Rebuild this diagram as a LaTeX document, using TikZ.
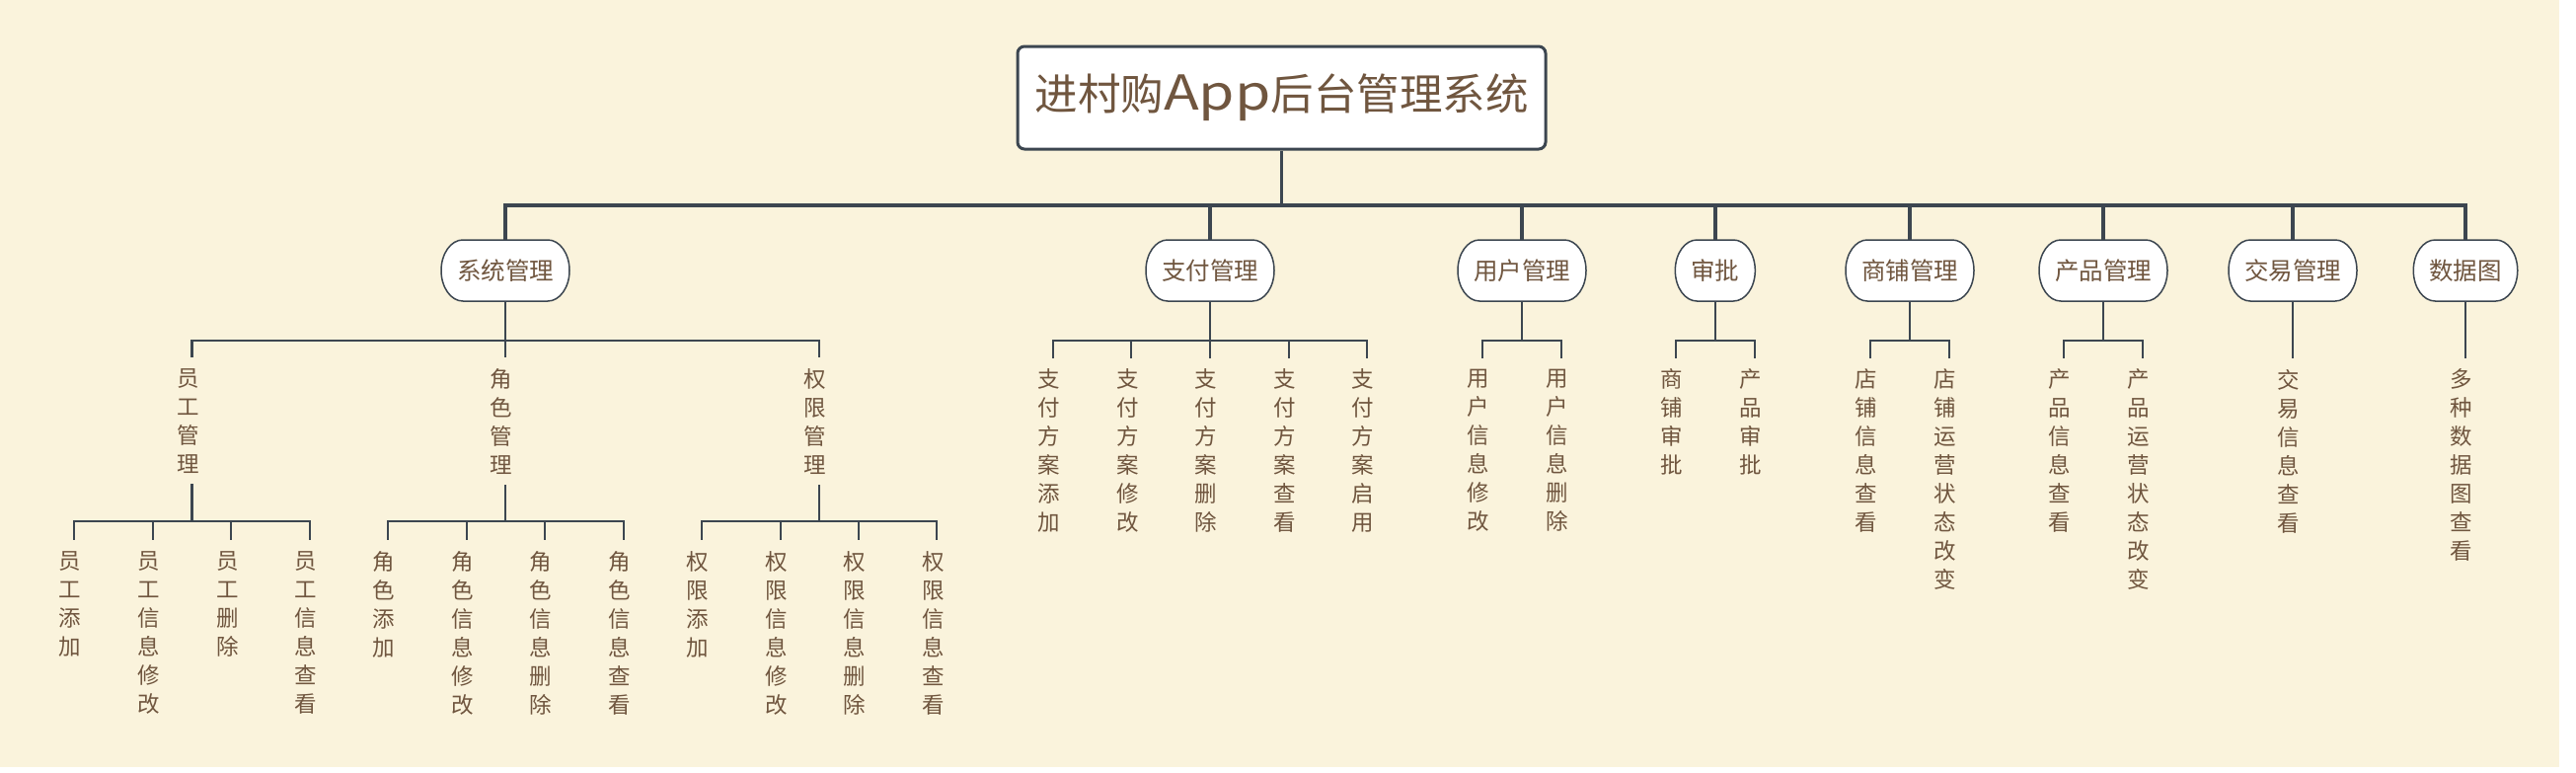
\documentclass[tikz,border=0pt]{standalone}
\usepackage{fontspec}
\setmainfont{Noto Sans CJK SC}
\usetikzlibrary{calc,backgrounds}
\definecolor{bg}{HTML}{FAF3DC}
\definecolor{ln}{HTML}{3C4650}
\definecolor{tx}{HTML}{70563F}
\tikzset{
  rootbox/.style={draw=ln, line width=3pt, fill=white, rounded corners=7pt,
    minimum width=535pt, minimum height=104pt, text=tx, inner sep=0pt,
    font=\fontsize{43.5}{50}\selectfont},
  topic/.style={minimum height=62pt, inner xsep=16pt, inner ysep=0pt,
    outer sep=0pt, text=tx, font=\fontsize{24.5}{28}\selectfont},
  topicshape/.style={draw=ln, line width=1.5pt, fill=white},
  vtext/.style={align=center, text=tx, font=\fontsize{22.5}{29}\selectfont,
    inner xsep=0pt, inner ysep=11pt, anchor=north},
  thickln/.style={draw=ln, line width=3.5pt},
  thinln/.style={draw=ln, line width=2.2pt},
}
\begin{document}
\begin{tikzpicture}[x=1pt,y=-1pt]
\begin{scope}[on background layer]
\fill[white] (0,0) rectangle (2610,782);
\fill[bg] (0,0) rectangle (2593,777);
\end{scope}
\useasboundingbox (0,0) rectangle (2610,782);

% root
\node[rootbox] (root) at (1298.5,99) {进村购\scalebox{1.35}[1.12]{App}后台管理系统};
\coordinate (rb) at (1298.5,208);

% level 1
\node[topic] (sys)   at (512,274)    {系统管理};
\node[topic] (pay)   at (1226,274)   {支付管理};
\node[topic] (usr)   at (1542,274)   {用户管理};
\node[topic] (apv)   at (1737.8,274) {审批};
\node[topic] (shop)  at (1935,274)   {商铺管理};
\node[topic] (prod)  at (2131,274)   {产品管理};
\node[topic] (trade) at (2323,274)   {交易管理};
\node[topic] (data)  at (2498,274)   {数据图};

\begin{scope}[on background layer]
\foreach \n in {sys,pay,usr,apv,shop,prod,trade,data}
  \draw[topicshape] ([xshift=22pt]\n.north west) -- ([xshift=-22pt]\n.north east)
    arc[start angle=90, end angle=-90, x radius=22pt, y radius=31pt]
    -- ([xshift=22pt]\n.south west)
    arc[start angle=270, end angle=90, x radius=22pt, y radius=31pt] -- cycle;
\end{scope}

\draw[thickln] (root.south) -- (rb);
\foreach \n in {sys,pay,usr,apv,shop,prod,trade,data}
  \draw[thickln] (rb) -| (\n.north);

% ---- 系统管理 ----
\node[vtext] (yg) at (190.5,362) {员\\工\\管\\理};
\node[vtext] (jg) at (508,362)   {角\\色\\管\\理};
\node[vtext] (qg) at (826,362)   {权\\限\\管\\理};
\coordinate (sysb) at (512,345);
\draw[thinln] (sys.south) -- (sysb);
\foreach \n in {yg,jg,qg} \draw[thinln] (sysb) -| ([xshift=4pt]\n.north);

% 员工管理 leaves
\node[vtext] (y1) at (71.1,547)  {员\\工\\添\\加};
\node[vtext] (y2) at (150.7,547) {员\\工\\信\\息\\修\\改};
\node[vtext] (y3) at (230.3,547) {员\\工\\删\\除};
\node[vtext] (y4) at (309.9,547) {员\\工\\信\\息\\查\\看};
\coordinate (ygb) at (194.5,528);
\draw[thinln] ([xshift=4pt]yg.south) -- (ygb);
\foreach \n in {y1,y2,y3,y4} \draw[thinln] (ygb) -| ([xshift=4pt]\n.north);

% 角色管理 leaves
\node[vtext] (j1) at (389,547)   {角\\色\\添\\加};
\node[vtext] (j2) at (468.7,547) {角\\色\\信\\息\\修\\改};
\node[vtext] (j3) at (548,547)   {角\\色\\信\\息\\删\\除};
\node[vtext] (j4) at (627.7,547) {角\\色\\信\\息\\查\\看};
\coordinate (jgb) at (512,528);
\draw[thinln] ([xshift=4pt]jg.south) -- (jgb);
\foreach \n in {j1,j2,j3,j4} \draw[thinln] (jgb) -| ([xshift=4pt]\n.north);

% 权限管理 leaves
\node[vtext] (q1) at (707,547)   {权\\限\\添\\加};
\node[vtext] (q2) at (786.7,547) {权\\限\\信\\息\\修\\改};
\node[vtext] (q3) at (866,547)   {权\\限\\信\\息\\删\\除};
\node[vtext] (q4) at (945.3,547) {权\\限\\信\\息\\查\\看};
\coordinate (qgb) at (830,528);
\draw[thinln] ([xshift=4pt]qg.south) -- (qgb);
\foreach \n in {q1,q2,q3,q4} \draw[thinln] (qgb) -| ([xshift=4pt]\n.north);

% ---- 支付管理 ----
\node[vtext] (p1) at (1062.7,362.7) {支\\付\\方\\案\\添\\加};
\node[vtext] (p2) at (1142.3,362.7) {支\\付\\方\\案\\修\\改};
\node[vtext] (p3) at (1222,362.7)   {支\\付\\方\\案\\删\\除};
\node[vtext] (p4) at (1301.6,362.7) {支\\付\\方\\案\\查\\看};
\node[vtext] (p5) at (1381.2,362.7) {支\\付\\方\\案\\启\\用};
\coordinate (payb) at (1226,345);
\draw[thinln] (pay.south) -- (payb);
\foreach \n in {p1,p2,p3,p4,p5} \draw[thinln] (payb) -| ([xshift=4pt]\n.north);

% ---- 用户管理 ----
\node[vtext] (u1) at (1498.2,362.7) {用\\户\\信\\息\\修\\改};
\node[vtext] (u2) at (1577.8,362.7) {用\\户\\信\\息\\删\\除};
\coordinate (usrb) at (1542,345);
\draw[thinln] (usr.south) -- (usrb);
\foreach \n in {u1,u2} \draw[thinln] (usrb) -| ([xshift=4pt]\n.north);

% ---- 审批 ----
\node[vtext] (a1) at (1694,362.7)   {商\\铺\\审\\批};
\node[vtext] (a2) at (1773.6,362.7) {产\\品\\审\\批};
\coordinate (apvb) at (1737.8,345);
\draw[thinln] (apv.south) -- (apvb);
\foreach \n in {a1,a2} \draw[thinln] (apvb) -| ([xshift=4pt]\n.north);

% ---- 商铺管理 ----
\node[vtext] (s1) at (1891.2,362.7) {店\\铺\\信\\息\\查\\看};
\node[vtext] (s2) at (1970.8,362.7) {店\\铺\\运\\营\\状\\态\\改\\变};
\coordinate (shopb) at (1935,345);
\draw[thinln] (shop.south) -- (shopb);
\foreach \n in {s1,s2} \draw[thinln] (shopb) -| ([xshift=4pt]\n.north);

% ---- 产品管理 ----
\node[vtext] (r1) at (2087.2,362.7) {产\\品\\信\\息\\查\\看};
\node[vtext] (r2) at (2166.8,362.7) {产\\品\\运\\营\\状\\态\\改\\变};
\coordinate (prodb) at (2131,345);
\draw[thinln] (prod.south) -- (prodb);
\foreach \n in {r1,r2} \draw[thinln] (prodb) -| ([xshift=4pt]\n.north);

% ---- 交易管理 ----
\node[vtext] (t1) at (2319,362.7) {交\\易\\信\\息\\查\\看};
\draw[thinln] (trade.south) -- ([xshift=4pt]t1.north);

% ---- 数据图 ----
\node[vtext] (d1) at (2494,362.7) {多\\种\\数\\据\\图\\查\\看};
\draw[thinln] (data.south) -- ([xshift=4pt]d1.north);
\end{tikzpicture}
\end{document}
